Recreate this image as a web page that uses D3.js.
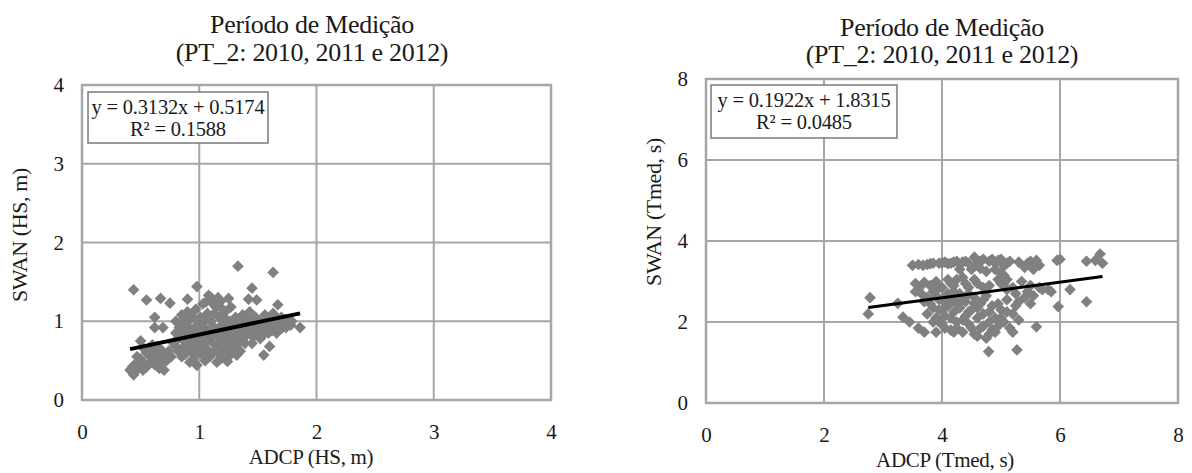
<!DOCTYPE html>
<html><head><meta charset="utf-8">
<script src="https://cdn.jsdelivr.net/npm/d3@7"></script>
<style>body{margin:0;background:#fff}svg{display:block}text{font-family:"Liberation Serif","Times New Roman",serif;fill:#1a1a1a}</style>
</head><body>
<svg id="c" width="1192" height="473"></svg>
<script>
// ---- data ----
const titleLines = ["Período de Medição", "(PT_2: 2010, 2011 e 2012)"];

const hsTicks = [0, 1, 2, 3, 4];
const tmTicks = [0, 2, 4, 6, 8];

const hsEquation = ["y = 0.3132x + 0.5174", "R² = 0.1588"];
const tmEquation = ["y = 0.1922x + 1.8315", "R² = 0.0485"];
const hsFit = {slope: 0.3132, intercept: 0.5174};
const tmFit = {slope: 0.1922, intercept: 1.8315};

const hsPoints = [
[0.41,0.38],[0.44,0.32],[0.45,0.45],[0.48,0.40],[0.50,0.52],[0.52,0.47],[0.55,0.60],[0.55,0.42],[0.58,0.55],[0.58,0.48],
[0.60,0.62],[0.62,0.45],[0.62,0.58],[0.65,0.52],[0.66,0.40],[0.68,0.63],[0.70,0.38],[0.72,0.50],[0.53,0.65],[0.47,0.55],
[0.60,0.70],[0.50,0.75],[0.64,0.68],[0.43,0.42],[0.52,0.38],[0.57,0.66],[0.67,0.46],[0.70,0.58],[0.74,0.62],[0.76,0.55],
[0.44,1.40],[0.55,1.27],[0.67,1.29],[0.75,1.23],[0.62,1.05],[0.62,0.92],[0.69,0.92],[0.90,1.28],[0.98,1.44],[1.08,1.33],
[1.25,1.29],[1.42,1.28],[1.45,1.42],[1.49,1.27],[1.33,1.70],[1.63,1.62],[1.67,1.21],[1.86,0.92],[1.60,0.68],[1.55,0.57],
[1.32,0.57],[0.98,0.44],[1.24,0.49],[1.18,0.52],
[0.78,0.72],[0.80,0.85],[0.80,1.00],[0.82,0.62],[0.83,0.92],[0.85,0.78],[0.85,1.08],[0.87,0.68],[0.88,0.95],[0.88,0.58],
[0.90,0.82],[0.90,1.12],[0.92,0.72],[0.92,1.02],[0.94,0.88],[0.95,0.62],[0.96,0.78],[0.97,1.15],[0.98,0.95],[1.00,0.70],
[1.00,0.85],[1.01,1.05],[1.02,0.58],[1.03,1.22],[1.04,0.92],[1.05,0.78],[1.06,0.65],[1.07,1.10],[1.08,0.85],[1.09,0.55],
[1.10,1.00],[1.10,1.30],[1.12,0.72],[1.13,0.92],[1.14,1.18],[1.15,0.62],[1.16,0.82],[1.17,1.05],[1.18,1.25],[1.19,0.75],
[1.20,0.95],[1.21,0.58],[1.22,1.12],[1.24,0.85],[1.25,0.68],[1.26,1.00],[1.27,1.18],[1.28,0.78],[1.30,0.92],[1.31,1.05],
[1.32,0.70],[1.33,0.85],[1.35,1.00],[1.36,0.78],[1.37,1.08],[1.38,0.92],[1.40,0.82],[1.41,1.02],[1.42,0.88],[1.43,1.12],
[1.45,0.95],[1.46,0.80],[1.48,1.05],[1.50,0.92],[1.52,0.78],[1.53,1.00],[1.55,0.88],[1.56,1.08],[1.58,0.95],[1.60,1.02],
[1.62,0.88],[1.63,1.10],[1.65,0.95],[1.67,1.02],[1.68,0.90],[1.70,1.05],[1.72,0.98],[1.74,0.92],[1.76,1.00],[1.78,0.95],
[0.85,0.55],[0.95,0.52],[1.05,0.50],[1.12,0.60],[1.25,0.55],[1.35,0.62],[1.45,0.72],[1.15,0.48],[0.92,0.48],
[0.82,0.78],[0.84,0.98],[0.86,0.88],[0.89,0.75],[0.91,0.92],[0.93,0.62],[0.95,1.05],[0.97,0.70],[0.99,0.82],[1.01,0.95],
[1.03,0.68],[1.05,1.00],[1.07,0.75],[1.09,0.90],[1.11,0.80],[1.13,1.10],[1.15,0.70],[1.17,0.92],[1.19,0.65],[1.21,0.85],
[1.23,0.75],[1.23,1.02],[1.26,0.90],[1.29,0.68],[1.29,0.98],[1.31,0.80],[1.34,0.93],[1.34,0.75],[1.39,0.98],[1.39,0.72],
[1.44,0.85],[1.47,0.92],[1.49,0.85],[1.51,0.98],[1.54,0.82],[1.57,0.90],[1.59,0.85],[1.61,0.95],[1.64,0.90],[1.66,0.85],
[1.69,0.98],[1.71,0.92],[1.73,1.02],[1.75,0.95],[1.79,1.00],[1.12,1.22],[1.06,1.25],[1.20,1.15],[1.16,1.30],[0.88,1.05],
[0.95,0.70],[1.02,0.78],[1.08,0.62],[0.98,0.60],[1.18,0.58],[1.27,0.62],[0.80,0.68],[0.90,0.65]
];

const tmPoints = [
[2.78,2.60],[2.75,2.20],[3.25,2.46],[3.34,2.12],[3.45,2.00],[3.60,1.85],[3.70,1.75],[4.79,1.27],[5.27,1.31],[5.60,1.88],
[5.97,2.38],[6.45,2.50],[6.17,2.80],[6.45,3.50],[6.60,3.52],[6.68,3.68],[6.72,3.45],[5.95,3.52],[6.00,3.55],
[3.50,3.40],[3.60,3.42],[3.75,3.42],[3.85,3.45],[3.95,3.45],[4.05,3.48],[4.15,3.45],[4.25,3.50],[4.35,3.48],[4.45,3.45],
[4.55,3.60],[4.60,3.40],[4.70,3.55],[4.80,3.50],[4.90,3.45],[5.00,3.55],[5.05,3.38],[5.15,3.50],[5.30,3.48],[5.40,3.35],
[5.50,3.50],[5.60,3.52],[5.65,3.40],[4.50,3.30],[4.75,3.25],[5.00,3.20],[4.30,3.30],
[3.55,2.95],[3.70,2.98],[3.90,3.00],[4.00,2.85],[4.10,3.05],[4.20,2.90],[4.35,3.10],[4.45,2.85],[4.60,2.95],[4.80,2.90],
[4.95,3.05],[5.05,2.95],[5.20,2.85],[5.35,3.00],[5.50,2.90],[5.65,2.85],[5.80,2.80],[5.85,2.75],[5.40,2.60],[5.50,2.45],[5.25,2.70],
[3.65,2.70],[3.70,2.50],[3.75,2.20],[3.80,2.45],[3.85,2.00],[3.90,2.65],[3.90,1.75],[3.95,2.30],[4.00,2.55],[4.00,1.95],
[4.05,2.15],[4.10,2.70],[4.10,2.40],[4.15,1.80],[4.20,2.25],[4.20,2.55],[4.25,2.00],[4.30,2.70],[4.30,2.35],[4.35,1.75],
[4.40,2.15],[4.40,2.50],[4.45,1.95],[4.50,2.30],[4.55,2.60],[4.55,1.70],[4.60,2.10],[4.65,1.85],[4.65,2.45],[4.70,2.20],
[4.75,1.60],[4.75,2.65],[4.80,2.00],[4.85,1.80],[4.85,2.40],[4.90,2.10],[4.95,1.90],[5.00,2.30],[5.05,2.00],[5.10,2.55],
[5.15,1.85],[5.20,2.20],[5.25,2.40],[5.20,1.75],[5.30,2.05],[3.95,2.00],[4.05,2.60],[4.25,1.85],[4.45,2.70],[4.60,2.35],
[3.68,3.40],[3.80,3.44],[4.00,3.46],[4.10,3.44],[4.20,3.48],[4.40,3.50],[4.65,3.50],[4.85,3.55],[4.95,3.52],[5.10,3.45],
[5.45,3.45],[5.55,3.30],[4.55,3.38],[4.65,3.32],[4.90,3.30],[5.05,3.15],[5.10,3.05],[3.62,2.85],[3.80,2.90],[3.95,2.85],
[4.15,2.95],[4.25,3.05],[4.40,2.95],[4.55,3.05],[4.70,2.85],[5.00,2.95],[5.10,2.80],[5.45,2.75],[5.55,2.65],[5.70,2.80],
[3.75,2.60],[3.85,2.35],[3.95,2.55],[4.05,2.35],[4.15,2.55],[4.15,2.10],[4.25,2.45],[4.35,2.55],[4.35,2.05],[4.45,2.25],
[4.50,1.85],[4.55,2.45],[4.70,1.90],[4.70,2.55],[4.80,2.25],[4.90,1.75],[5.00,2.10],[5.10,2.25],[3.90,2.10],[4.05,1.85],
[4.20,1.75],[4.60,1.65],[4.80,1.70],[4.95,2.45],[5.30,2.50],[3.85,2.75],[4.20,2.75],[3.55,2.75]
];

const charts = [
  {points: hsPoints, ticks: hsTicks, fit: hsFit, eq: hsEquation, xTitle: "ADCP (HS, m)", yTitle: "SWAN (HS, m)"},
  {points: tmPoints, ticks: tmTicks, fit: tmFit, eq: tmEquation, xTitle: "ADCP (Tmed, s)", yTitle: "SWAN (Tmed, s)"}
];

// ---- layout ----
const layout = [
  {l: 82, r: 551, t: 85, b: 400, titleX: 312, titleY: [33, 61], yTitleX: 27, yTitleY: 235, xTitleX: 311, xTitleY: 464, box: [88, 92, 180, 51]},
  {l: 706, r: 1178, t: 79, b: 403, titleX: 942, titleY: [36, 63], yTitleX: 661, yTitleY: 212, xTitleX: 945, xTitleY: 467, box: [711, 85, 186, 53]}
];

const svg = d3.select("#c");
const grid = "#a6a6a6";

charts.forEach((c, i) => {
  const L = layout[i];
  const dom = d3.extent(c.ticks);
  const x = d3.scaleLinear().domain(dom).range([L.l, L.r]);
  const y = d3.scaleLinear().domain(dom).range([L.b, L.t]);
  const g = svg.append("g");

  // gridlines
  g.append("g").selectAll("line").data(c.ticks).join("line")
    .attr("x1", d => x(d)).attr("x2", d => x(d)).attr("y1", L.t).attr("y2", L.b)
    .attr("stroke", grid).attr("stroke-width", 2);
  g.append("g").selectAll("line").data(c.ticks).join("line")
    .attr("x1", L.l).attr("x2", L.r).attr("y1", d => y(d)).attr("y2", d => y(d))
    .attr("stroke", grid).attr("stroke-width", 2);
  g.append("rect").attr("x", L.l).attr("y", L.t).attr("width", L.r - L.l).attr("height", L.b - L.t)
    .attr("fill", "none").attr("stroke", grid).attr("stroke-width", 2.5);

  // axes (labels only)
  const xa = g.append("g").attr("transform", `translate(0,${L.b})`)
    .call(d3.axisBottom(x).tickValues(c.ticks).tickSize(0).tickPadding(24).tickFormat(d3.format("d")));
  const ya = g.append("g").attr("transform", `translate(${L.l},0)`)
    .call(d3.axisLeft(y).tickValues(c.ticks).tickSize(0).tickPadding(18).tickFormat(d3.format("d")));
  [xa, ya].forEach(a => {
    a.select(".domain").remove();
    a.selectAll("text").attr("font-family", "Liberation Serif").attr("font-size", 21).attr("fill", "#1a1a1a");
  });

  // points
  const sym = d3.symbol().type(d3.symbolSquare).size(68);
  g.append("g").selectAll("path").data(c.points).join("path")
    .attr("d", sym)
    .attr("transform", d => `translate(${x(d[0])},${y(d[1])}) rotate(45)`)
    .attr("fill", "#808080");

  // trendline
  const xe = d3.extent(c.points, d => d[0]);
  g.append("line")
    .attr("x1", x(xe[0])).attr("y1", y(c.fit.slope * xe[0] + c.fit.intercept))
    .attr("x2", x(xe[1])).attr("y2", y(c.fit.slope * xe[1] + c.fit.intercept))
    .attr("stroke", "#000").attr("stroke-width", i === 0 ? 4 : 3);

  // equation box
  const [bx, by, bw, bh] = L.box;
  g.append("rect").attr("x", bx).attr("y", by).attr("width", bw).attr("height", bh)
    .attr("fill", "#fff").attr("stroke", "#7a7a7a").attr("stroke-width", 1.5);
  g.append("text").attr("x", bx + bw / 2).attr("y", by + 22).attr("text-anchor", "middle").attr("font-size", 20.5).attr("letter-spacing", -0.2).text(c.eq[0]);
  g.append("text").attr("x", bx + bw / 2).attr("y", by + 44).attr("text-anchor", "middle").attr("font-size", 20.5).attr("letter-spacing", -0.2).text(c.eq[1]);

  // titles
  titleLines.forEach((t, k) => {
    svg.append("text").attr("x", L.titleX).attr("y", L.titleY[k]).attr("text-anchor", "middle")
      .attr("font-size", 26).attr("letter-spacing", -0.3).text(t);
  });
  svg.append("text").attr("x", L.xTitleX).attr("y", L.xTitleY).attr("text-anchor", "middle")
    .attr("font-size", 21).attr("letter-spacing", -0.3).text(c.xTitle);
  svg.append("text").attr("transform", `translate(${L.yTitleX},${L.yTitleY}) rotate(-90)`).attr("text-anchor", "middle")
    .attr("font-size", 22).attr("letter-spacing", -0.4).text(c.yTitle);
});
</script>
</body></html>
